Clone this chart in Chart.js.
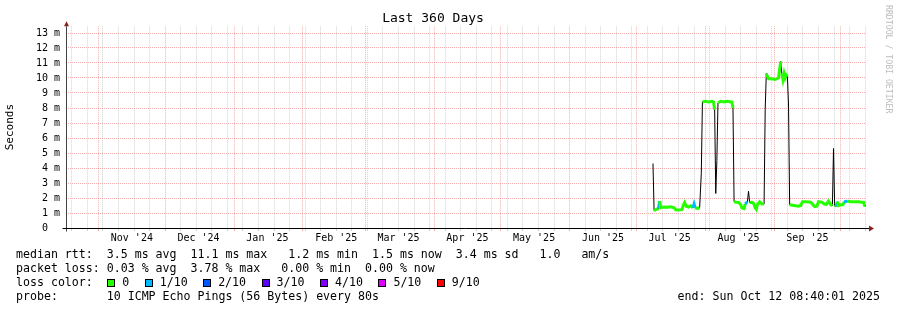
<!DOCTYPE html>
<html>
<head>
<meta charset="utf-8">
<title>Last 360 Days</title>
<script src="https://cdn.jsdelivr.net/npm/chart.js@4"></script>
<style>
  body { margin: 0; background: #fff; }
  canvas { display: block; }
</style>
</head>
<body>
<canvas id="pingChart" width="897" height="310"></canvas>
<script>
// median rtt samples (milliseconds) and packet loss (pings lost out of 10)
var pingTimes = [
  '2025-07-08 12:00', '2025-07-09 00:00', '2025-07-10 00:00', '2025-07-11 00:00', '2025-07-11 12:00',
  '2025-07-12 00:00', '2025-07-13 12:00', '2025-07-15 00:00', '2025-07-16 12:00', '2025-07-18 00:00',
  '2025-07-18 18:00', '2025-07-20 00:00', '2025-07-21 12:00', '2025-07-22 06:00', '2025-07-22 18:00',
  '2025-07-23 12:00', '2025-07-24 12:00', '2025-07-25 12:00', '2025-07-26 12:00', '2025-07-27 00:00',
  '2025-07-27 12:00', '2025-07-28 12:00', '2025-07-29 12:00', '2025-07-30 06:00', '2025-07-30 18:00',
  '2025-08-01 00:00', '2025-08-02 12:00', '2025-08-04 00:00', '2025-08-04 18:00', '2025-08-05 06:00',
  '2025-08-05 18:00', '2025-08-06 06:00', '2025-08-06 18:00', '2025-08-08 00:00', '2025-08-09 12:00',
  '2025-08-11 00:00', '2025-08-12 12:00', '2025-08-13 00:00', '2025-08-13 12:00', '2025-08-14 00:00',
  '2025-08-15 00:00', '2025-08-16 00:00', '2025-08-17 00:00', '2025-08-17 12:00', '2025-08-18 12:00',
  '2025-08-19 00:00', '2025-08-20 00:00', '2025-08-20 12:00', '2025-08-21 00:00', '2025-08-22 00:00',
  '2025-08-22 18:00', '2025-08-23 12:00', '2025-08-24 00:00', '2025-08-24 12:00', '2025-08-25 12:00',
  '2025-08-26 12:00', '2025-08-27 12:00', '2025-08-28 00:00', '2025-08-28 12:00', '2025-08-29 12:00',
  '2025-08-31 00:00', '2025-09-01 12:00', '2025-09-03 00:00', '2025-09-03 12:00', '2025-09-04 00:00',
  '2025-09-04 12:00', '2025-09-05 00:00', '2025-09-05 12:00', '2025-09-06 00:00', '2025-09-06 12:00',
  '2025-09-07 00:00', '2025-09-07 12:00', '2025-09-08 00:00', '2025-09-10 00:00', '2025-09-12 00:00',
  '2025-09-13 00:00', '2025-09-13 18:00', '2025-09-15 12:00', '2025-09-17 12:00', '2025-09-18 12:00',
  '2025-09-19 06:00', '2025-09-20 06:00', '2025-09-21 00:00', '2025-09-22 12:00', '2025-09-23 12:00',
  '2025-09-24 12:00', '2025-09-25 12:00', '2025-09-26 12:00', '2025-09-27 06:00', '2025-09-27 18:00',
  '2025-09-28 06:00', '2025-09-29 00:00', '2025-09-29 12:00', '2025-09-30 00:00', '2025-10-01 00:00',
  '2025-10-02 00:00', '2025-10-02 12:00', '2025-10-04 00:00', '2025-10-05 12:00', '2025-10-07 00:00',
  '2025-10-09 00:00', '2025-10-10 12:00', '2025-10-11 06:00', '2025-10-11 18:00', '2025-10-12 08:00'
];
var medianMs = [
  4.3, 1.15, 1.25, 1.3, 1.8,
  1.35, 1.4, 1.38, 1.42, 1.35,
  1.22, 1.2, 1.22, 1.55, 1.7,
  1.45, 1.4, 1.48, 1.35, 1.6,
  1.35, 1.3, 1.35, 3.65, 8.4,
  8.45, 8.4, 8.45, 8.4, 7.9,
  2.3, 4.5, 8.35, 8.45, 8.4,
  8.45, 8.4, 8.4, 8.0, 1.75,
  1.72, 1.7, 1.55, 1.35, 1.3,
  1.6, 1.75, 2.45, 1.7, 1.72,
  1.65, 1.35, 1.25, 1.55, 1.75,
  1.6, 1.6, 7.9, 10.3, 9.95,
  9.95, 9.9, 10.0, 10.6, 11.1,
  10.3, 9.9, 10.3, 10.0, 10.2,
  10.1, 8.2, 1.55, 1.5, 1.45,
  1.5, 1.75, 1.75, 1.72, 1.55,
  1.42, 1.45, 1.75, 1.72, 1.6,
  1.58, 1.8, 1.55, 1.5, 5.3,
  1.5, 1.45, 1.75, 1.5, 1.55,
  1.55, 1.75, 1.78, 1.75, 1.75,
  1.75, 1.72, 1.72, 1.5, 1.5
];
var lossTenths = [
  0, 0, 0, 0, 1,
  0, 0, 0, 0, 0,
  0, 0, 0, 0, 0,
  0, 0, 0, 0, 1,
  1, 0, 0, 0, 0,
  0, 0, 0, 0, 0,
  0, 0, 0, 0, 0,
  0, 0, 0, 0, 0,
  0, 0, 0, 0, 0,
  0, 1, 0, 0, 0,
  0, 0, 0, 0, 0,
  0, 0, 0, 0, 0,
  0, 0, 0, 0, 0,
  0, 0, 0, 0, 0,
  0, 0, 0, 0, 0,
  0, 0, 0, 0, 0,
  0, 0, 0, 0, 0,
  0, 0, 0, 0, 1,
  0, 0, 1, 0, 0,
  0, 0, 1, 0, 0,
  0, 0, 0, 0, 0
];

// x axis: month boundaries and their labels
var monthStarts = ['2024-11-01', '2024-12-01', '2025-01-01', '2025-02-01', '2025-03-01', '2025-04-01',
                   '2025-05-01', '2025-06-01', '2025-07-01', '2025-08-01', '2025-09-01', '2025-10-01'];
var monthMids = ['2024-11-16', '2024-12-16', '2025-01-16', '2025-02-16', '2025-03-16', '2025-04-16',
                 '2025-05-16', '2025-06-16', '2025-07-16', '2025-08-16', '2025-09-16'];
var monthLabels = ["Nov '24", "Dec '24", "Jan '25", "Feb '25", "Mar '25", "Apr '25",
                   "May '25", "Jun '25", "Jul '25", "Aug '25", "Sep '25"];

var lossLabels = ['0', '1/10', '2/10', '3/10', '4/10', '5/10', '9/10'];
var lossSteps = [0, 1, 2, 3, 4, 5, 9];
var lossColors = ['#26ff00', '#00b8ff', '#0059ff', '#5e00ff', '#7e00ff', '#dd00ff', '#ff0000'];

var rangeStart = '2024-10-17 08:40';
var rangeEnd = '2025-10-12 08:40';

var legendLines = [
  'median rtt:  3.5 ms avg  11.1 ms max   1.2 ms min  1.5 ms now  3.4 ms sd   1.0   am/s',
  'packet loss: 0.03 % avg  3.78 % max   0.00 % min  0.00 % now',
  'loss color:',
  'probe:       10 ICMP Echo Pings (56 Bytes) every 80s'
];
var endText = 'end: Sun Oct 12 08:40:01 2025';

function toMs(s) {
  var p = s.split(/[- :]/);
  return Date.UTC(+p[0], +p[1] - 1, +p[2], +(p[3] || 0), +(p[4] || 0));
}

var MONO = "'DejaVu Sans Mono', monospace";
var MAJOR = 'rgba(230, 80, 80, 0.45)';
var MINOR = 'rgba(140, 140, 140, 0.4)';
var NONE = 'rgba(0, 0, 0, 0)';
var DAY = 86400000;

var xMin = toMs(rangeStart);
var xMax = toMs(rangeEnd);

// build x ticks: sundays (minor), month starts (major), mid month labels
var xKind = {};
var xLabel = {};
for (var t = toMs('2024-10-20'); t <= xMax; t += 7 * DAY) xKind[t] = 'minor';
monthStarts.forEach(function (m) { xKind[toMs(m)] = 'major'; });
monthMids.forEach(function (m, i) {
  var v = toMs(m);
  if (!xKind[v]) xKind[v] = 'label';
  xLabel[v] = monthLabels[i];
});
var xTickValues = Object.keys(xKind).map(Number).filter(function (v) {
  return v >= xMin && v <= xMax;
}).sort(function (a, b) { return a - b; });

var points = pingTimes.map(function (s, i) {
  return { x: toMs(s), y: medianMs[i] };
});

function lossColor(loss) {
  var idx = 0;
  for (var i = 0; i < lossSteps.length; i++) if (loss >= lossSteps[i]) idx = i;
  return lossColors[idx];
}

function bandColor(ctx) {
  if (Math.abs(ctx.p0.parsed.y - ctx.p1.parsed.y) > 0.6) return NONE;
  return lossColor(lossTenths[ctx.p1DataIndex]);
}

function xGridColor(c) {
  var k = c.tick ? xKind[c.tick.value] : null;
  return k === 'major' ? MAJOR : k === 'minor' ? MINOR : NONE;
}

var rrdDecor = {
  id: 'rrdDecor',
  afterDraw: function (chart) {
    var ctx = chart.ctx;
    var a = chart.chartArea;
    var ax = Math.round(a.left) + 0.5;
    var ay = Math.round(a.bottom) + 0.5;
    ctx.save();

    // axes
    ctx.lineWidth = 1;
    ctx.strokeStyle = '#444';
    ctx.beginPath();
    ctx.moveTo(ax, ay + 3);
    ctx.lineTo(ax, a.top);
    ctx.stroke();
    ctx.strokeStyle = '#000';
    ctx.beginPath();
    ctx.moveTo(ax - 4, ay);
    ctx.lineTo(a.right + 3, ay);
    ctx.stroke();
    ctx.fillStyle = '#8f1f1f';
    ctx.beginPath();
    ctx.moveTo(ax - 2.5, a.top);
    ctx.lineTo(ax + 2.5, a.top);
    ctx.lineTo(ax, a.top - 5);
    ctx.closePath();
    ctx.fill();
    ctx.beginPath();
    ctx.moveTo(a.right + 3, ay - 3);
    ctx.lineTo(a.right + 3, ay + 3);
    ctx.lineTo(a.right + 8, ay);
    ctx.closePath();
    ctx.fill();

    // legend block
    ctx.font = '11.6px ' + MONO;
    ctx.fillStyle = '#000';
    ctx.textAlign = 'left';
    ctx.textBaseline = 'alphabetic';
    legendLines.forEach(function (line, i) {
      ctx.fillText(line, 16, 258 + i * 14);
    });
    var cw = ctx.measureText('0').width;
    var cx = 16 + 13 * cw + 0.5;
    lossLabels.forEach(function (lab, i) {
      ctx.fillStyle = lossColors[i];
      ctx.fillRect(Math.round(cx), 279, 7, 7);
      ctx.strokeStyle = '#000';
      ctx.strokeRect(Math.round(cx) + 0.5, 279.5, 7, 7);
      ctx.fillStyle = '#000';
      ctx.fillText(lab, cx + 15, 286);
      cx += 15 + ctx.measureText(lab).width + 15.5;
    });
    ctx.textAlign = 'right';
    ctx.fillText(endText, 880, 300);

    // watermark
    ctx.font = '8.2px ' + MONO;
    ctx.fillStyle = '#bdbdbd';
    ctx.textAlign = 'left';
    ctx.textBaseline = 'middle';
    ctx.translate(888, 5);
    ctx.rotate(Math.PI / 2);
    ctx.fillText('RRDTOOL / TOBI OETIKER', 0, 0);
    ctx.restore();
  }
};

new Chart(document.getElementById('pingChart').getContext('2d'), {
  type: 'line',
  data: {
    datasets: [
      {
        label: 'median',
        data: points,
        borderWidth: 3,
        borderColor: lossColors[0],
        segment: { borderColor: bandColor },
        borderCapStyle: 'butt',
        pointRadius: 0,
        tension: 0,
        order: 1
      },
      {
        label: 'median line',
        data: points,
        borderWidth: 1,
        borderColor: '#000',
        pointRadius: 0,
        tension: 0,
        order: 2
      }
    ]
  },
  options: {
    responsive: false,
    animation: false,
    events: [],
    layout: { padding: { left: 0, right: 31, top: 0, bottom: 0 } },
    plugins: {
      legend: { display: false },
      tooltip: { enabled: false },
      title: {
        display: true,
        text: 'Last 360 Days',
        color: '#000',
        font: { family: MONO, size: 13, weight: 'normal', lineHeight: 1 },
        padding: { top: 12.5, bottom: 0.75 }
      }
    },
    scales: {
      x: {
        type: 'linear',
        min: xMin,
        max: xMax,
        bounds: 'data',
        afterBuildTicks: function (scale) {
          scale.ticks = xTickValues.map(function (v) { return { value: v }; });
        },
        afterFit: function (scale) { scale.height = 82; },
        grid: {
          color: xGridColor,
          tickColor: xGridColor,
          lineWidth: 1,
          drawTicks: true,
          tickLength: 3
        },
        border: { display: false, dash: [1, 1] },
        ticks: {
          autoSkip: false,
          maxRotation: 0,
          minRotation: 0,
          padding: 1,
          color: '#000',
          font: { family: MONO, size: 10 },
          callback: function (v) { return xLabel[v] || ''; }
        }
      },
      y: {
        min: 0,
        max: 13.45,
        bounds: 'data',
        afterBuildTicks: function (scale) {
          var ticks = [];
          for (var i = 0; i <= 26; i++) ticks.push({ value: i / 2 });
          scale.ticks = ticks;
        },
        afterFit: function (scale) { scale.width = 66; },
        grid: {
          color: function (c) {
            if (!c.tick) return NONE;
            return Number.isInteger(c.tick.value) ? MAJOR : MINOR;
          },
          lineWidth: 1,
          drawTicks: false
        },
        border: { display: false, dash: [1, 1] },
        title: {
          display: true,
          text: 'Seconds',
          color: '#000',
          font: { family: MONO, size: 11 },
          padding: { top: 3.6, bottom: 0 }
        },
        ticks: {
          padding: 6,
          color: '#000',
          font: { family: MONO, size: 10 },
          callback: function (v) {
            if (!Number.isInteger(v)) return '';
            return v === 0 ? '0  ' : v + ' m';
          }
        }
      }
    }
  },
  plugins: [rrdDecor]
});
</script>
</body>
</html>
